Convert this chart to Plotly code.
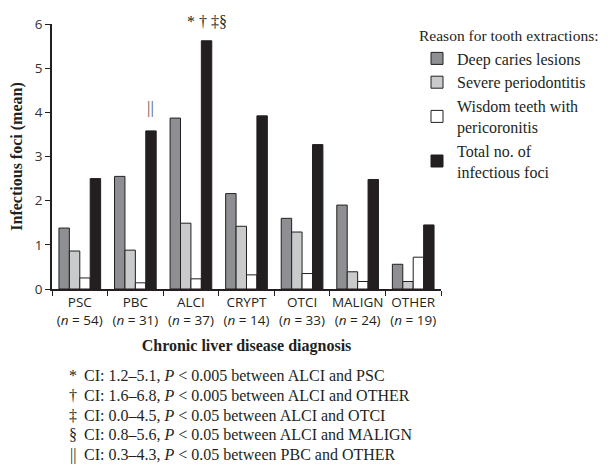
import plotly.graph_objects as go

categories = ["PSC", "PBC", "ALCI", "CRYPT", "OTCI", "MALIGN", "OTHER"]
n_values = [54, 31, 37, 14, 33, 24, 19]
deep_caries = [1.38, 2.55, 3.87, 2.16, 1.60, 1.90, 0.56]
severe_perio = [0.86, 0.88, 1.49, 1.42, 1.29, 0.39, 0.17]
wisdom_teeth = [0.25, 0.14, 0.23, 0.32, 0.35, 0.17, 0.72]
total_foci = [2.50, 3.58, 5.62, 3.92, 3.27, 2.48, 1.45]

series_names = ["Deep caries lesions", "Severe periodontitis",
                "Wisdom teeth with<br>pericoronitis", "Total no. of<br>infectious foci"]
series_values = [deep_caries, severe_perio, wisdom_teeth, total_foci]
series_colors = ["#8e8f92", "#c9cacc", "#ffffff", "#231f20"]

footnote_symbols = ["*", "†", "‡", "§", "||"]
footnote_texts = [
    "CI: 1.2–5.1, <i>P</i> < 0.005 between ALCI and PSC",
    "CI: 1.6–6.8, <i>P</i> < 0.005 between ALCI and OTHER",
    "CI: 0.0–4.5, <i>P</i> < 0.05 between ALCI and OTCI",
    "CI: 0.8–5.6, <i>P</i> < 0.05 between ALCI and MALIGN",
    "CI: 0.3–4.3, <i>P</i> < 0.05 between PBC and OTHER",
]

tick_labels = [f"{c}<br>(<i>n</i> = {n})" for c, n in zip(categories, n_values)]

serif = "Liberation Serif"
sans = "Open Sans"
ink = "#231f20"

fig = go.Figure()
for name, vals, col in zip(series_names, series_values, series_colors):
    fig.add_trace(go.Bar(
        x=categories, y=vals, name=name,
        marker=dict(color=col, line=dict(color=ink, width=1)),
    ))

# significance markers above total bars
bar_offset = -0.375 + 0.1875 * 3.5
fig.add_annotation(x=categories.index("ALCI") + bar_offset, y=total_foci[2],
                   text="* † ‡§", showarrow=False, yanchor="bottom", yshift=9,
                   font=dict(family=serif, size=16, color=ink))
fig.add_annotation(x=categories.index("PBC") + bar_offset, y=total_foci[1],
                   text="||", showarrow=False, yanchor="bottom", yshift=12,
                   font=dict(family=serif, size=17, color="#555555"))

# footnotes
for i, (s, t) in enumerate(zip(footnote_symbols, footnote_texts)):
    ypix = 375 + 20 * i
    yp = (289 - ypix) / 265
    fig.add_annotation(xref="paper", yref="paper", x=(73 - 52) / 389, y=yp,
                       text=s, showarrow=False, xanchor="center", yanchor="middle",
                       font=dict(family=serif, size=16, color=ink))
    fig.add_annotation(xref="paper", yref="paper", x=(82 - 52) / 389, y=yp,
                       text=t, showarrow=False, xanchor="left", yanchor="middle",
                       font=dict(family=serif, size=16, color=ink))

fig.update_layout(
    width=604, height=459,
    margin=dict(l=44, r=171, t=16, b=178, autoexpand=False),
    paper_bgcolor="white", plot_bgcolor="white",
    barmode="group", bargap=0.25, bargroupgap=0,
    legend=dict(
        title=dict(text="Reason for tooth extractions:", side="top",
                   font=dict(family=serif, size=15.5, color=ink)),
        font=dict(family=serif, size=16, color=ink),
        x=(417 - 52) / 389, xanchor="left", y=1.01, yanchor="top",
        bgcolor="rgba(0,0,0,0)", itemclick=False,
    ),
    xaxis=dict(
        type="category", tickmode="array", tickvals=categories, ticktext=tick_labels,
        tickson="boundaries", ticks="outside", ticklen=5, tickcolor=ink,
        tickangle=0, automargin=False,
        showline=True, linecolor=ink, linewidth=1.5,
        tickfont=dict(family=sans, size=13.5, color=ink),
        title=dict(text="<b>Chronic liver disease diagnosis</b>", standoff=12,
                   font=dict(family=serif, size=16, color=ink)),
    ),
    yaxis=dict(
        range=[0, 6], dtick=1, ticks="outside", ticklen=5, tickcolor=ink,
        showline=True, linecolor=ink, linewidth=1.5, showgrid=False, zeroline=False,
        automargin=False,
        tickfont=dict(family=sans, size=13.5, color="#333333"),
        title=dict(text="<b>Infectious foci (mean)</b>", standoff=10,
                   font=dict(family=serif, size=16, color=ink)),
    ),
)

fig.write_html("out.html")
